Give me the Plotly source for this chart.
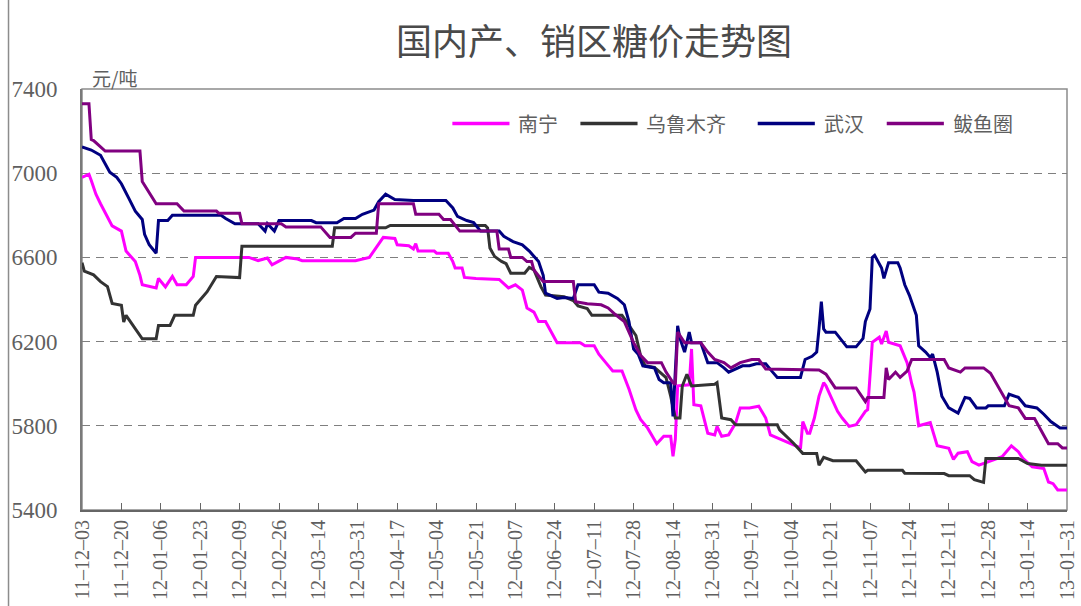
import plotly.graph_objects as go

# Sugar spot prices (元/吨) by market, as (date, price) points
NANNING = [
    ("2011-12-03", 6980), ("2011-12-06", 6995), ("2011-12-07", 6965), ("2011-12-09", 6900),
    ("2011-12-11", 6855), ("2011-12-14", 6790), ("2011-12-16", 6750), ("2011-12-20", 6725),
    ("2011-12-22", 6630), ("2011-12-26", 6580), ("2011-12-28", 6515), ("2011-12-29", 6470),
    ("2012-01-04", 6455), ("2012-01-05", 6500), ("2012-01-08", 6460), ("2012-01-11", 6510),
    ("2012-01-13", 6470), ("2012-01-17", 6470), ("2012-01-20", 6510), ("2012-01-21", 6600),
    ("2012-02-13", 6600), ("2012-02-17", 6585), ("2012-02-21", 6597), ("2012-02-23", 6565),
    ("2012-02-29", 6600), ("2012-03-05", 6592), ("2012-03-07", 6584), ("2012-03-30", 6584),
    ("2012-04-05", 6600), ("2012-04-11", 6695), ("2012-04-16", 6690), ("2012-04-17", 6660),
    ("2012-04-22", 6655), ("2012-04-24", 6640), ("2012-04-25", 6665), ("2012-04-26", 6630),
    ("2012-05-03", 6630), ("2012-05-04", 6620), ("2012-05-09", 6620), ("2012-05-11", 6580),
    ("2012-05-12", 6550), ("2012-05-15", 6550), ("2012-05-16", 6505), ("2012-05-21", 6500),
    ("2012-05-31", 6495), ("2012-06-04", 6455), ("2012-06-07", 6470), ("2012-06-10", 6445),
    ("2012-06-12", 6360), ("2012-06-15", 6340), ("2012-06-17", 6295), ("2012-06-20", 6295),
    ("2012-06-25", 6195), ("2012-07-05", 6195), ("2012-07-07", 6180), ("2012-07-11", 6180),
    ("2012-07-13", 6140), ("2012-07-16", 6100), ("2012-07-19", 6060), ("2012-07-23", 6060),
    ("2012-07-26", 5975), ("2012-07-29", 5875), ("2012-07-31", 5830), ("2012-08-03", 5790),
    ("2012-08-07", 5715), ("2012-08-10", 5750), ("2012-08-13", 5750), ("2012-08-14", 5655),
    ("2012-08-15", 5735), ("2012-08-16", 5990), ("2012-08-21", 5995), ("2012-08-22", 6165),
    ("2012-08-23", 5900), ("2012-08-26", 5895), ("2012-08-29", 5765), ("2012-09-01", 5757),
    ("2012-09-02", 5797), ("2012-09-04", 5750), ("2012-09-07", 5757), ("2012-09-10", 5813),
    ("2012-09-12", 5885), ("2012-09-16", 5885), ("2012-09-20", 5893), ("2012-09-23", 5837),
    ("2012-09-25", 5757), ("2012-09-30", 5733), ("2012-10-07", 5700), ("2012-10-08", 5690),
    ("2012-10-09", 5820), ("2012-10-11", 5765), ("2012-10-12", 5765), ("2012-10-14", 5837),
    ("2012-10-16", 5941), ("2012-10-18", 6005), ("2012-10-19", 5990), ("2012-10-21", 5941),
    ("2012-10-24", 5869), ("2012-10-26", 5837), ("2012-10-29", 5797), ("2012-11-01", 5805),
    ("2012-11-05", 5869), ("2012-11-06", 5877), ("2012-11-08", 6197), ("2012-11-11", 6221),
    ("2012-11-12", 6189), ("2012-11-14", 6250), ("2012-11-15", 6197), ("2012-11-20", 6180),
    ("2012-11-23", 6100), ("2012-11-25", 6000), ("2012-11-26", 5960), ("2012-11-28", 5800),
    ("2012-12-03", 5815), ("2012-12-06", 5705), ("2012-12-11", 5693), ("2012-12-13", 5640),
    ("2012-12-15", 5670), ("2012-12-19", 5677), ("2012-12-21", 5630), ("2012-12-24", 5613),
    ("2013-01-03", 5653), ("2013-01-07", 5705), ("2013-01-10", 5677), ("2013-01-12", 5645),
    ("2013-01-16", 5605), ("2013-01-21", 5597), ("2013-01-23", 5533), ("2013-01-25", 5525),
    ("2013-01-27", 5495), ("2013-01-31", 5495),
]

URUMQI = [
    ("2011-12-03", 6575), ("2011-12-04", 6535), ("2011-12-08", 6517), ("2011-12-11", 6485),
    ("2011-12-14", 6461), ("2011-12-16", 6381), ("2011-12-20", 6373), ("2011-12-21", 6293),
    ("2011-12-22", 6325), ("2011-12-25", 6277), ("2011-12-29", 6213), ("2012-01-04", 6213),
    ("2012-01-05", 6277), ("2012-01-10", 6277), ("2012-01-12", 6325), ("2012-01-20", 6325),
    ("2012-01-21", 6373), ("2012-01-26", 6437), ("2012-01-30", 6509), ("2012-02-09", 6504),
    ("2012-02-10", 6653), ("2012-03-20", 6653), ("2012-03-21", 6741), ("2012-04-12", 6741),
    ("2012-04-14", 6752), ("2012-05-25", 6752), ("2012-05-26", 6740), ("2012-05-27", 6645),
    ("2012-05-29", 6605), ("2012-06-01", 6581), ("2012-06-03", 6570), ("2012-06-05", 6525),
    ("2012-06-11", 6525), ("2012-06-13", 6552), ("2012-06-15", 6541), ("2012-06-18", 6461),
    ("2012-06-20", 6421), ("2012-06-28", 6413), ("2012-07-02", 6395), ("2012-07-04", 6370),
    ("2012-07-08", 6357), ("2012-07-10", 6325), ("2012-07-23", 6325), ("2012-07-26", 6277),
    ("2012-07-29", 6229), ("2012-07-31", 6133), ("2012-08-02", 6085), ("2012-08-06", 6077),
    ("2012-08-11", 6029), ("2012-08-13", 5941), ("2012-08-15", 5837), ("2012-08-17", 5837),
    ("2012-08-18", 5989), ("2012-08-20", 6045), ("2012-08-22", 5989), ("2012-09-01", 5997),
    ("2012-09-02", 6005), ("2012-09-04", 5837), ("2012-09-08", 5829), ("2012-09-10", 5805),
    ("2012-09-28", 5805), ("2012-09-29", 5781), ("2012-10-05", 5717), ("2012-10-09", 5669),
    ("2012-10-15", 5669), ("2012-10-16", 5613), ("2012-10-18", 5650), ("2012-10-22", 5634),
    ("2012-11-01", 5634), ("2012-11-05", 5581), ("2012-11-06", 5589), ("2012-11-21", 5589),
    ("2012-11-22", 5575), ("2012-12-09", 5573), ("2012-12-11", 5563), ("2012-12-20", 5563),
    ("2012-12-22", 5544), ("2012-12-26", 5531), ("2012-12-27", 5645), ("2013-01-10", 5645),
    ("2013-01-14", 5621), ("2013-01-20", 5613), ("2013-01-31", 5613),
]

WUHAN = [
    ("2011-12-03", 7125), ("2011-12-07", 7110), ("2011-12-11", 7085), ("2011-12-13", 7045),
    ("2011-12-15", 7005), ("2011-12-18", 6980), ("2011-12-20", 6950), ("2011-12-23", 6885),
    ("2011-12-26", 6820), ("2011-12-29", 6780), ("2011-12-30", 6710), ("2012-01-01", 6660),
    ("2012-01-04", 6620), ("2012-01-05", 6775), ("2012-01-09", 6775), ("2012-01-11", 6800),
    ("2012-02-01", 6800), ("2012-02-03", 6785), ("2012-02-07", 6760), ("2012-02-17", 6760),
    ("2012-02-20", 6725), ("2012-02-21", 6760), ("2012-02-24", 6725), ("2012-02-26", 6775),
    ("2012-03-11", 6775), ("2012-03-13", 6765), ("2012-03-22", 6765), ("2012-03-25", 6785),
    ("2012-03-30", 6785), ("2012-04-02", 6805), ("2012-04-07", 6825), ("2012-04-09", 6865),
    ("2012-04-12", 6900), ("2012-04-16", 6875), ("2012-04-24", 6870), ("2012-05-08", 6870),
    ("2012-05-11", 6835), ("2012-05-13", 6795), ("2012-05-17", 6775), ("2012-05-20", 6765),
    ("2012-05-23", 6725), ("2012-05-31", 6725), ("2012-06-02", 6700), ("2012-06-06", 6675),
    ("2012-06-10", 6660), ("2012-06-13", 6630), ("2012-06-17", 6580), ("2012-06-19", 6515),
    ("2012-06-20", 6430), ("2012-06-25", 6405), ("2012-06-28", 6410), ("2012-07-02", 6405),
    ("2012-07-04", 6470), ("2012-07-11", 6470), ("2012-07-13", 6435), ("2012-07-17", 6430),
    ("2012-07-21", 6405), ("2012-07-24", 6375), ("2012-07-26", 6295), ("2012-07-28", 6165),
    ("2012-07-30", 6140), ("2012-08-01", 6085), ("2012-08-06", 6075), ("2012-08-08", 6020),
    ("2012-08-10", 6005), ("2012-08-13", 6005), ("2012-08-14", 5845), ("2012-08-16", 6275),
    ("2012-08-17", 6215), ("2012-08-19", 6150), ("2012-08-21", 6245), ("2012-08-22", 6195),
    ("2012-08-26", 6195), ("2012-08-29", 6100), ("2012-09-02", 6100), ("2012-09-05", 6075),
    ("2012-09-07", 6055), ("2012-09-13", 6085), ("2012-09-16", 6085), ("2012-09-19", 6095),
    ("2012-09-23", 6095), ("2012-09-26", 6055), ("2012-09-28", 6030), ("2012-10-08", 6030),
    ("2012-10-10", 6115), ("2012-10-13", 6130), ("2012-10-15", 6150), ("2012-10-16", 6260),
    ("2012-10-17", 6390), ("2012-10-18", 6260), ("2012-10-19", 6245), ("2012-10-23", 6245),
    ("2012-10-25", 6215), ("2012-10-28", 6175), ("2012-11-01", 6175), ("2012-11-04", 6215),
    ("2012-11-05", 6295), ("2012-11-07", 6355), ("2012-11-08", 6600), ("2012-11-09", 6610),
    ("2012-11-12", 6550), ("2012-11-13", 6500), ("2012-11-15", 6575), ("2012-11-19", 6575),
    ("2012-11-20", 6550), ("2012-11-22", 6470), ("2012-11-24", 6420), ("2012-11-27", 6325),
    ("2012-11-28", 6180), ("2012-12-01", 6150), ("2012-12-03", 6125), ("2012-12-04", 6140),
    ("2012-12-06", 6055), ("2012-12-08", 5940), ("2012-12-11", 5885), ("2012-12-15", 5860),
    ("2012-12-18", 5935), ("2012-12-20", 5930), ("2012-12-23", 5885), ("2012-12-27", 5885),
    ("2012-12-28", 5895), ("2013-01-04", 5895), ("2013-01-06", 5950), ("2013-01-10", 5935),
    ("2013-01-13", 5895), ("2013-01-18", 5885), ("2013-01-21", 5855), ("2013-01-24", 5820),
    ("2013-01-28", 5790), ("2013-01-31", 5790),
]

BAYUQUAN = [
    ("2011-12-03", 7330), ("2011-12-06", 7330), ("2011-12-07", 7160), ("2011-12-08", 7155),
    ("2011-12-13", 7105), ("2011-12-28", 7105), ("2011-12-29", 6960), ("2012-01-04", 6855),
    ("2012-01-13", 6855), ("2012-01-16", 6820), ("2012-01-30", 6820), ("2012-01-31", 6810),
    ("2012-02-09", 6810), ("2012-02-10", 6760), ("2012-02-27", 6760), ("2012-02-29", 6745),
    ("2012-03-15", 6745), ("2012-03-19", 6695), ("2012-03-28", 6695), ("2012-03-30", 6715),
    ("2012-04-08", 6715), ("2012-04-09", 6855), ("2012-04-24", 6855), ("2012-04-25", 6805),
    ("2012-05-05", 6805), ("2012-05-07", 6780), ("2012-05-10", 6780), ("2012-05-13", 6740),
    ("2012-05-14", 6725), ("2012-05-30", 6725), ("2012-05-31", 6640), ("2012-06-04", 6640),
    ("2012-06-05", 6600), ("2012-06-10", 6600), ("2012-06-12", 6580), ("2012-06-14", 6580),
    ("2012-06-15", 6540), ("2012-06-19", 6485), ("2012-07-02", 6485), ("2012-07-03", 6390),
    ("2012-07-08", 6380), ("2012-07-14", 6375), ("2012-07-17", 6360), ("2012-07-20", 6330),
    ("2012-07-24", 6295), ("2012-07-28", 6195), ("2012-07-31", 6135), ("2012-08-03", 6100),
    ("2012-08-09", 6100), ("2012-08-11", 6055), ("2012-08-14", 6005), ("2012-08-15", 5995),
    ("2012-08-16", 6245), ("2012-08-19", 6195), ("2012-08-26", 6195), ("2012-08-29", 6150),
    ("2012-09-01", 6115), ("2012-09-05", 6100), ("2012-09-08", 6075), ("2012-09-12", 6100),
    ("2012-09-17", 6115), ("2012-09-20", 6115), ("2012-09-23", 6070), ("2012-10-16", 6065),
    ("2012-10-19", 6045), ("2012-10-23", 5980), ("2012-11-01", 5980), ("2012-11-05", 5915),
    ("2012-11-06", 5935), ("2012-11-13", 5935), ("2012-11-14", 6075), ("2012-11-15", 6020),
    ("2012-11-18", 6055), ("2012-11-20", 6030), ("2012-11-23", 6060), ("2012-11-25", 6115),
    ("2012-12-09", 6115), ("2012-12-11", 6075), ("2012-12-16", 6055), ("2012-12-18", 6075),
    ("2012-12-26", 6075), ("2012-12-29", 6050), ("2013-01-06", 5895), ("2013-01-10", 5885),
    ("2013-01-13", 5835), ("2013-01-17", 5835), ("2013-01-20", 5775), ("2013-01-23", 5715),
    ("2013-01-27", 5715), ("2013-01-29", 5695), ("2013-01-31", 5695),
]

SERIES_NAMES = ["南宁", "乌鲁木齐", "武汉", "鲅鱼圈"]
SERIES_COLORS = ["#FF00FF", "#333333", "#000080", "#800080"]

# x-axis tick positions (every 17 days)
TICK_DATES = [
    "2011-12-03", "2011-12-20", "2012-01-06", "2012-01-23", "2012-02-09", "2012-02-26",
    "2012-03-14", "2012-03-31", "2012-04-17", "2012-05-04", "2012-05-21", "2012-06-07",
    "2012-06-24", "2012-07-11", "2012-07-28", "2012-08-14", "2012-08-31", "2012-09-17",
    "2012-10-04", "2012-10-21", "2012-11-07", "2012-11-24", "2012-12-11", "2012-12-28",
    "2013-01-14", "2013-01-31",
]
TICK_TEXT = [d[2:].replace("-", "–") for d in TICK_DATES]
Y_TICKS = [5400, 5800, 6200, 6600, 7000, 7400]

TITLE = "国内产、销区糖价走势图"
UNIT = "元/吨"

SERIF = "Liberation Serif, DejaVu Serif, serif"
CJK = "Noto Sans CJK SC, sans-serif"
TEXT_GRAY = "#5f5f5f"

fig = go.Figure()
for name, color, data in zip(SERIES_NAMES, SERIES_COLORS, [NANNING, URUMQI, WUHAN, BAYUQUAN]):
    fig.add_trace(go.Scatter(
        x=[d for d, _ in data],
        y=[v for _, v in data],
        mode="lines",
        name=name,
        line=dict(color=color, width=3),
        showlegend=False,
    ))

# plot frame (top / right edges)
fig.add_shape(type="rect", xref="paper", yref="paper", x0=0, x1=1, y0=0, y1=1,
              line=dict(color="#8c8c8c", width=1.5), layer="below")
# outer chart frame edge on the left
fig.add_shape(type="line", xref="paper", yref="paper", x0=-0.0746, x1=-0.0746, y0=-0.3, y1=1.3,
              line=dict(color="#8c8c8c", width=1.5))

# legend row drawn along the top of the plot
legend_items = [
    (0.376, 0.434, 0.441),
    (0.506, 0.564, 0.571),
    (0.686, 0.744, 0.751),
    (0.817, 0.875, 0.882),
]
for (x0, x1, xt), name, color in zip(legend_items, SERIES_NAMES, SERIES_COLORS):
    fig.add_shape(type="line", xref="paper", yref="paper", x0=x0, x1=x1, y0=0.918, y1=0.918,
                  line=dict(color=color, width=3.5))
    fig.add_annotation(xref="paper", yref="paper", x=xt, y=0.918, text=name, showarrow=False,
                       xanchor="left", yanchor="middle",
                       font=dict(family=CJK, size=20, color=TEXT_GRAY))

fig.add_annotation(xref="paper", yref="paper", x=0.008, y=1.0, text=UNIT, showarrow=False,
                   xanchor="left", yanchor="bottom", yshift=-4,
                   font=dict(family=CJK, size=19, color=TEXT_GRAY))

fig.update_layout(
    width=1081, height=606,
    paper_bgcolor="white", plot_bgcolor="white",
    margin=dict(l=82, r=14, t=89, b=96, autoexpand=False),
    title=dict(text=TITLE, x=0.5495, xanchor="center", y=0.93, yanchor="middle",
               font=dict(family=CJK, size=36, color="#4a4a4a")),
    xaxis=dict(
        type="date",
        automargin=False,
        range=["2011-12-03", "2013-01-31"],
        tickvals=TICK_DATES, ticktext=TICK_TEXT,
        tickangle=-90,
        ticks="inside", ticklen=7, tickcolor="#666666", tickwidth=1.2,
        showline=True, linecolor="#666666", linewidth=2,
        showgrid=False, zeroline=False,
        tickfont=dict(family=SERIF, size=20, color=TEXT_GRAY),
    ),
    yaxis=dict(
        automargin=False,
        range=[5400, 7400],
        tickvals=Y_TICKS,
        ticks="", ticklabelstandoff=18,
        showline=True, linecolor="#7a7a7a", linewidth=2,
        showgrid=True, gridcolor="#7f7f7f", gridwidth=1, griddash="8px,6px",
        zeroline=False,
        tickfont=dict(family=SERIF, size=23, color=TEXT_GRAY),
    ),
)

fig.write_html("out.html")
